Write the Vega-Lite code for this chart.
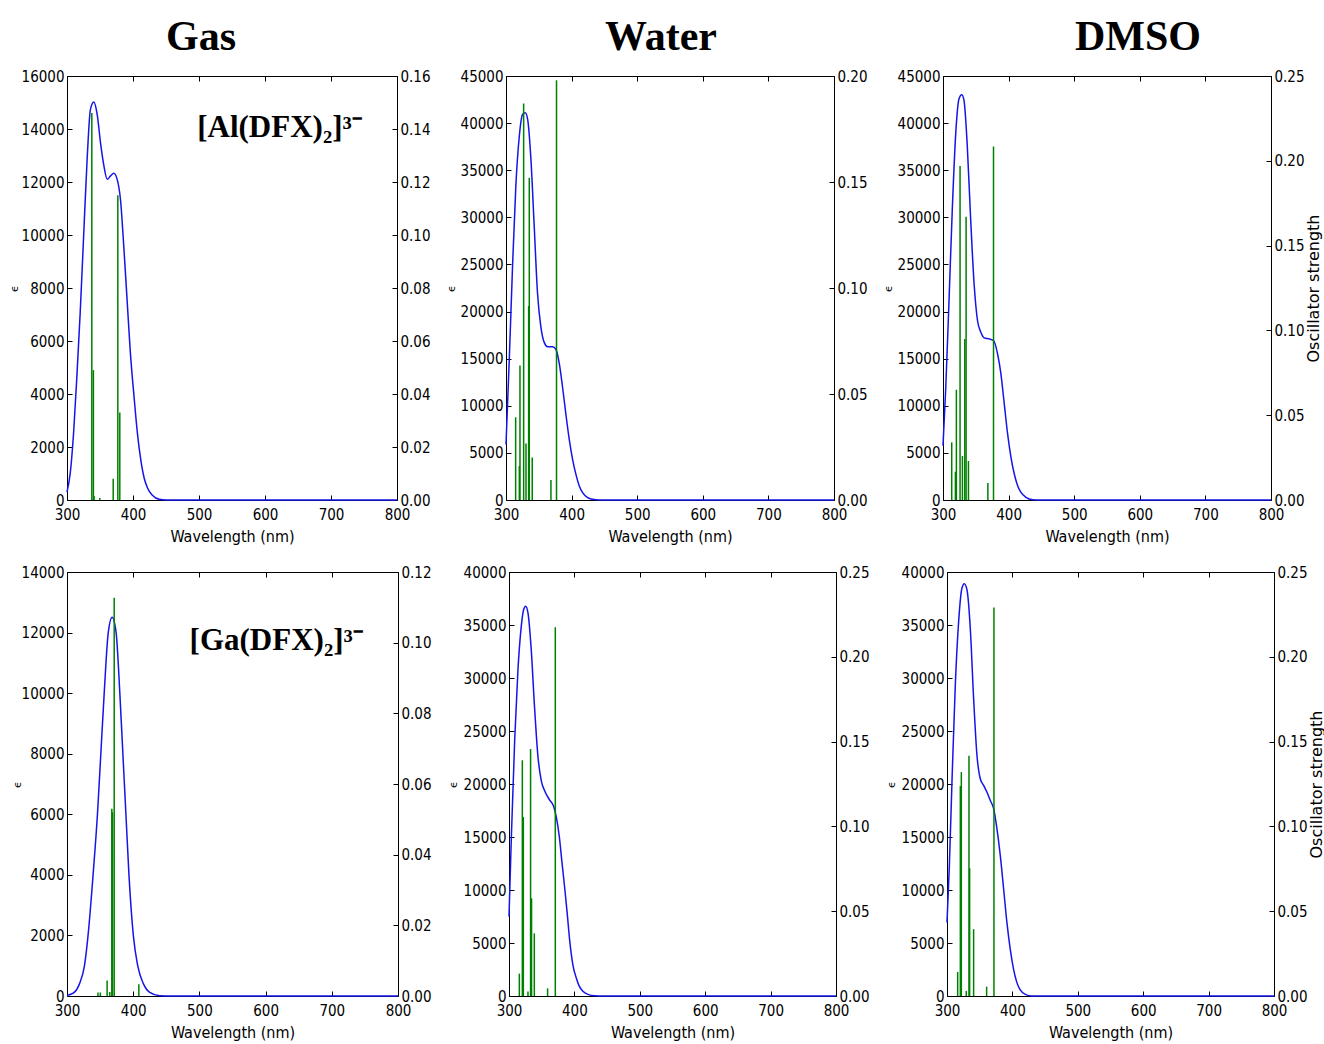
{
  "$schema": "https://vega.github.io/schema/vega-lite/v6.json",
  "background": "white",
  "padding": {"left": 7, "top": 15, "right": 0, "bottom": 0},
  "config": {
    "view": {"stroke": "#000", "strokeWidth": 1},
    "axis": {"grid": false, "domain": false, "ticks": true, "tickColor": "#000", "tickSize": -5, "tickWidth": 1, "labelFont": "Liberation Sans Narrow, DejaVu Sans Condensed, DejaVu Sans", "labelFontSize": 15, "labelColor": "#000", "labelPadding": 8, "titleFont": "Liberation Sans Narrow, DejaVu Sans Condensed, DejaVu Sans", "titleFontSize": 16, "titleFontWeight": "normal", "titleColor": "#000", "labelFlush": false, "labelOverlap": false},
    "axisBottom": {"labelPadding": 12, "minExtent": 22, "maxExtent": 22, "titlePadding": 6},
    "axisLeft": {"minExtent": 45, "maxExtent": 45, "titlePadding": 3, "titleFont": "DejaVu Sans", "titleFontSize": 11},
    "axisRight": {"minExtent": 32, "maxExtent": 32, "titlePadding": 2},
    "title": {"font": "Liberation Serif", "fontSize": 42, "fontWeight": "bold", "color": "#000", "frame": "group", "anchor": "middle", "offset": 10, "baseline": "alphabetic"}
  },
  "datasets": {
    "curve": [
      {"s":"AlGas","wl":300,"eps":300},{"s":"AlGas","wl":305,"eps":1030},{"s":"AlGas","wl":310,"eps":2540},{"s":"AlGas","wl":315,"eps":4680},{"s":"AlGas","wl":320,"eps":7070},{"s":"AlGas","wl":325,"eps":9840},{"s":"AlGas","wl":330.5,"eps":12860},{"s":"AlGas","wl":335.5,"eps":14740},{"s":"AlGas","wl":340.6,"eps":15020},{"s":"AlGas","wl":345.7,"eps":14550},{"s":"AlGas","wl":350.8,"eps":13480},{"s":"AlGas","wl":356,"eps":12600},{"s":"AlGas","wl":361,"eps":12100},{"s":"AlGas","wl":366,"eps":12230},{"s":"AlGas","wl":371,"eps":12330},{"s":"AlGas","wl":376,"eps":12100},{"s":"AlGas","wl":381,"eps":11350},{"s":"AlGas","wl":386,"eps":9580},{"s":"AlGas","wl":391,"eps":7570},{"s":"AlGas","wl":396,"eps":5560},{"s":"AlGas","wl":401.5,"eps":3920},{"s":"AlGas","wl":406.6,"eps":2540},{"s":"AlGas","wl":411.7,"eps":1530},{"s":"AlGas","wl":416.8,"eps":840},{"s":"AlGas","wl":421.8,"eps":465},{"s":"AlGas","wl":429.4,"eps":175},{"s":"AlGas","wl":439.6,"eps":25},{"s":"AlGas","wl":450,"eps":0},{"s":"AlGas","wl":500,"eps":0},{"s":"AlGas","wl":600,"eps":0},{"s":"AlGas","wl":700,"eps":0},{"s":"AlGas","wl":800,"eps":0},
      {"s":"AlWater","wl":300,"eps":5900},{"s":"AlWater","wl":305,"eps":14930},{"s":"AlWater","wl":310,"eps":24830},{"s":"AlWater","wl":315,"eps":33320},{"s":"AlWater","wl":320.3,"eps":38630},{"s":"AlWater","wl":325.4,"eps":40930},{"s":"AlWater","wl":329.4,"eps":41100},{"s":"AlWater","wl":333,"eps":40400},{"s":"AlWater","wl":338,"eps":36150},{"s":"AlWater","wl":343,"eps":29080},{"s":"AlWater","wl":348,"eps":22000},{"s":"AlWater","wl":353,"eps":18460},{"s":"AlWater","wl":358.4,"eps":16700},{"s":"AlWater","wl":363.5,"eps":16270},{"s":"AlWater","wl":371,"eps":16270},{"s":"AlWater","wl":376,"eps":16000},{"s":"AlWater","wl":381,"eps":14570},{"s":"AlWater","wl":386,"eps":12100},{"s":"AlWater","wl":391,"eps":9270},{"s":"AlWater","wl":396.4,"eps":6440},{"s":"AlWater","wl":401.5,"eps":4320},{"s":"AlWater","wl":406.6,"eps":2720},{"s":"AlWater","wl":411.7,"eps":1490},{"s":"AlWater","wl":416.8,"eps":780},{"s":"AlWater","wl":424.4,"eps":250},{"s":"AlWater","wl":432,"eps":70},{"s":"AlWater","wl":442,"eps":0},{"s":"AlWater","wl":500,"eps":0},{"s":"AlWater","wl":600,"eps":0},{"s":"AlWater","wl":700,"eps":0},{"s":"AlWater","wl":800,"eps":0},
      {"s":"AlDMSO","wl":300,"eps":5770},{"s":"AlDMSO","wl":304,"eps":11600},{"s":"AlDMSO","wl":309,"eps":20820},{"s":"AlDMSO","wl":314.3,"eps":31090},{"s":"AlDMSO","wl":319.4,"eps":38880},{"s":"AlDMSO","wl":324.5,"eps":42600},{"s":"AlDMSO","wl":328.6,"eps":43020},{"s":"AlDMSO","wl":332,"eps":42420},{"s":"AlDMSO","wl":337,"eps":37600},{"s":"AlDMSO","wl":342,"eps":30030},{"s":"AlDMSO","wl":347.4,"eps":22950},{"s":"AlDMSO","wl":352.6,"eps":19050},{"s":"AlDMSO","wl":357.7,"eps":17800},{"s":"AlDMSO","wl":362.8,"eps":17210},{"s":"AlDMSO","wl":370.4,"eps":17100},{"s":"AlDMSO","wl":377,"eps":16930},{"s":"AlDMSO","wl":383.2,"eps":15510},{"s":"AlDMSO","wl":388.3,"eps":13390},{"s":"AlDMSO","wl":393.4,"eps":10200},{"s":"AlDMSO","wl":398.5,"eps":7010},{"s":"AlDMSO","wl":403.6,"eps":4530},{"s":"AlDMSO","wl":408.7,"eps":2760},{"s":"AlDMSO","wl":413.8,"eps":1520},{"s":"AlDMSO","wl":418.9,"eps":810},{"s":"AlDMSO","wl":426.5,"eps":280},{"s":"AlDMSO","wl":436.7,"eps":35},{"s":"AlDMSO","wl":447,"eps":0},{"s":"AlDMSO","wl":500,"eps":0},{"s":"AlDMSO","wl":600,"eps":0},{"s":"AlDMSO","wl":700,"eps":0},{"s":"AlDMSO","wl":800,"eps":0},
      {"s":"GaGas","wl":300,"eps":20},{"s":"GaGas","wl":310,"eps":100},{"s":"GaGas","wl":318.8,"eps":400},{"s":"GaGas","wl":326.4,"eps":1000},{"s":"GaGas","wl":331.8,"eps":2000},{"s":"GaGas","wl":339.4,"eps":4000},{"s":"GaGas","wl":346,"eps":6000},{"s":"GaGas","wl":351.1,"eps":8000},{"s":"GaGas","wl":356.2,"eps":10000},{"s":"GaGas","wl":362.3,"eps":12000},{"s":"GaGas","wl":368.2,"eps":12510},{"s":"GaGas","wl":374.2,"eps":12000},{"s":"GaGas","wl":379.8,"eps":10000},{"s":"GaGas","wl":384.4,"eps":8000},{"s":"GaGas","wl":389,"eps":6000},{"s":"GaGas","wl":393.6,"eps":4000},{"s":"GaGas","wl":400.2,"eps":2000},{"s":"GaGas","wl":406.8,"eps":1000},{"s":"GaGas","wl":415.5,"eps":400},{"s":"GaGas","wl":425,"eps":120},{"s":"GaGas","wl":440,"eps":10},{"s":"GaGas","wl":460,"eps":0},{"s":"GaGas","wl":500,"eps":0},{"s":"GaGas","wl":600,"eps":0},{"s":"GaGas","wl":700,"eps":0},{"s":"GaGas","wl":800,"eps":0},
      {"s":"GaWater","wl":300,"eps":7500},{"s":"GaWater","wl":303.6,"eps":15000},{"s":"GaWater","wl":308.7,"eps":24150},{"s":"GaWater","wl":313.7,"eps":30780},{"s":"GaWater","wl":318.8,"eps":34890},{"s":"GaWater","wl":322.4,"eps":36460},{"s":"GaWater","wl":325.5,"eps":36780},{"s":"GaWater","wl":329,"eps":36150},{"s":"GaWater","wl":334,"eps":32680},{"s":"GaWater","wl":339,"eps":27310},{"s":"GaWater","wl":344.3,"eps":22570},{"s":"GaWater","wl":349.4,"eps":20300},{"s":"GaWater","wl":355,"eps":19300},{"s":"GaWater","wl":362,"eps":18500},{"s":"GaWater","wl":368.2,"eps":17900},{"s":"GaWater","wl":372.3,"eps":16900},{"s":"GaWater","wl":377,"eps":15000},{"s":"GaWater","wl":381,"eps":12600},{"s":"GaWater","wl":385.5,"eps":10000},{"s":"GaWater","wl":389,"eps":7800},{"s":"GaWater","wl":392.7,"eps":5300},{"s":"GaWater","wl":397.8,"eps":2900},{"s":"GaWater","wl":402.9,"eps":1700},{"s":"GaWater","wl":406.9,"eps":1000},{"s":"GaWater","wl":413,"eps":450},{"s":"GaWater","wl":420.7,"eps":150},{"s":"GaWater","wl":431,"eps":20},{"s":"GaWater","wl":445,"eps":0},{"s":"GaWater","wl":500,"eps":0},{"s":"GaWater","wl":600,"eps":0},{"s":"GaWater","wl":700,"eps":0},{"s":"GaWater","wl":800,"eps":0},
      {"s":"GaDMSO","wl":300,"eps":6940},{"s":"GaDMSO","wl":303.6,"eps":12300},{"s":"GaDMSO","wl":307.6,"eps":20190},{"s":"GaDMSO","wl":312.7,"eps":29340},{"s":"GaDMSO","wl":317.8,"eps":35330},{"s":"GaDMSO","wl":322.9,"eps":38490},{"s":"GaDMSO","wl":326.5,"eps":38900},{"s":"GaDMSO","wl":330.5,"eps":38330},{"s":"GaDMSO","wl":335.6,"eps":34700},{"s":"GaDMSO","wl":340.7,"eps":28080},{"s":"GaDMSO","wl":345.8,"eps":22710},{"s":"GaDMSO","wl":350.9,"eps":20500},{"s":"GaDMSO","wl":356,"eps":19870},{"s":"GaDMSO","wl":361,"eps":19240},{"s":"GaDMSO","wl":366.2,"eps":18450},{"s":"GaDMSO","wl":371.3,"eps":17670},{"s":"GaDMSO","wl":376.4,"eps":15770},{"s":"GaDMSO","wl":381.5,"eps":13250},{"s":"GaDMSO","wl":386.6,"eps":10090},{"s":"GaDMSO","wl":391.6,"eps":6940},{"s":"GaDMSO","wl":396.7,"eps":4420},{"s":"GaDMSO","wl":401.8,"eps":2520},{"s":"GaDMSO","wl":406.9,"eps":1260},{"s":"GaDMSO","wl":412,"eps":570},{"s":"GaDMSO","wl":419.7,"eps":160},{"s":"GaDMSO","wl":429.8,"eps":0},{"s":"GaDMSO","wl":500,"eps":0},{"s":"GaDMSO","wl":600,"eps":0},{"s":"GaDMSO","wl":700,"eps":0},{"s":"GaDMSO","wl":800,"eps":0}
    ],
    "sticks": [
      {"s":"AlGas","wl":337.6,"f":0.146},{"s":"AlGas","wl":340,"f":0.049},{"s":"AlGas","wl":341,"f":0.0015},{"s":"AlGas","wl":349.7,"f":0.0008},{"s":"AlGas","wl":370,"f":0.008},{"s":"AlGas","wl":377,"f":0.115},{"s":"AlGas","wl":380,"f":0.033},
      {"s":"AlWater","wl":314.7,"f":0.039},{"s":"AlWater","wl":320.3,"f":0.016},{"s":"AlWater","wl":321.3,"f":0.0635},{"s":"AlWater","wl":326.9,"f":0.187},{"s":"AlWater","wl":330.5,"f":0.0266},{"s":"AlWater","wl":334.5,"f":0.0915},{"s":"AlWater","wl":335.5,"f":0.152},{"s":"AlWater","wl":340,"f":0.02},{"s":"AlWater","wl":368.5,"f":0.0094},{"s":"AlWater","wl":377,"f":0.198},
      {"s":"AlDMSO","wl":313.3,"f":0.034},{"s":"AlDMSO","wl":318.9,"f":0.0167},{"s":"AlDMSO","wl":320.4,"f":0.065},{"s":"AlDMSO","wl":326,"f":0.197},{"s":"AlDMSO","wl":329.6,"f":0.026},{"s":"AlDMSO","wl":333.2,"f":0.095},{"s":"AlDMSO","wl":335.2,"f":0.167},{"s":"AlDMSO","wl":338.8,"f":0.023},{"s":"AlDMSO","wl":368.4,"f":0.01},{"s":"AlDMSO","wl":377,"f":0.2085},
      {"s":"GaGas","wl":346.8,"f":0.001},{"s":"GaGas","wl":350.4,"f":0.001},{"s":"GaGas","wl":360.6,"f":0.0044},{"s":"GaGas","wl":364.7,"f":0.0011},{"s":"GaGas","wl":367.7,"f":0.053},{"s":"GaGas","wl":368.7,"f":0.052},{"s":"GaGas","wl":371.3,"f":0.1127},{"s":"GaGas","wl":408.5,"f":0.0033},
      {"s":"GaWater","wl":315.8,"f":0.0132},{"s":"GaWater","wl":320.4,"f":0.139},{"s":"GaWater","wl":321.9,"f":0.1055},{"s":"GaWater","wl":329,"f":0.0026},{"s":"GaWater","wl":333,"f":0.1456},{"s":"GaWater","wl":334.5,"f":0.0576},{"s":"GaWater","wl":338.7,"f":0.0369},{"s":"GaWater","wl":359,"f":0.0045},{"s":"GaWater","wl":370.8,"f":0.2174},
      {"s":"GaDMSO","wl":316.3,"f":0.0142},{"s":"GaDMSO","wl":320.4,"f":0.1238},{"s":"GaDMSO","wl":321.9,"f":0.132},{"s":"GaDMSO","wl":329.5,"f":0.003},{"s":"GaDMSO","wl":333.6,"f":0.1416},{"s":"GaDMSO","wl":334.6,"f":0.0753},{"s":"GaDMSO","wl":340.7,"f":0.0394},{"s":"GaDMSO","wl":360.6,"f":0.0055},{"s":"GaDMSO","wl":371.8,"f":0.229}
    ]
  },
  "spacing": 19,
  "vconcat": [
    {
      "bounds": "flush",
      "spacing": 109,
      "hconcat": [
        {
          "width": 330, "height": 424,
          "title": {"text": "Gas", "dx": -31},
          "resolve": {"scale": {"y": "independent"}, "axis": {"x": "independent"}},
          "layer": [
            {"layer": [
              {"data": {"name": "curve"}, "transform": [{"filter": "datum.s === 'AlGas'"}],
               "mark": {"type": "line", "color": "#1515e8", "strokeWidth": 1.5, "interpolate": "monotone"},
               "encoding": {
                 "x": {"field": "wl", "type": "quantitative", "scale": {"domain": [300, 800], "nice": false}, "axis": {"values": [300,400,500,600,700,800], "format": "d", "title": "Wavelength (nm)"}},
                 "y": {"field": "eps", "type": "quantitative", "scale": {"domain": [0, 16000], "nice": false}, "axis": {"values": [0,2000,4000,6000,8000,10000,12000,14000,16000], "format": "d", "title": "ϵ"}}
               }},
              {"data": {"values": [{}]},
               "mark": {"type": "text", "font": "Liberation Serif", "fontWeight": "bold", "fontSize": 31, "align": "center", "baseline": "middle", "color": "#000"},
               "encoding": {
                 "x": {"datum": 622, "type": "quantitative", "scale": {"domain": [300, 800], "nice": false}},
                 "y": {"datum": 14038, "type": "quantitative", "scale": {"domain": [0, 16000], "nice": false}},
                 "text": {"value": "[Al(DFX)₂]³⁻"}
               }}
            ]},
            {"data": {"name": "sticks"}, "transform": [{"filter": "datum.s === 'AlGas'"}],
             "mark": {"type": "rule", "color": "#008000", "strokeWidth": 1.5},
             "encoding": {
               "x": {"field": "wl", "type": "quantitative", "scale": {"domain": [300, 800], "nice": false}, "axis": {"orient": "top", "values": [300,400,500,600,700,800], "labels": false, "title": null}},
               "y": {"field": "f", "type": "quantitative", "scale": {"domain": [0, 0.16], "nice": false}, "axis": {"orient": "right", "values": [0,0.02,0.04,0.06,0.08,0.1,0.12,0.14,0.16], "format": ".2f", "title": null}},
               "y2": {"datum": 0}
             }}
          ]
        },
        {
          "width": 328, "height": 424,
          "title": {"text": "Water", "dx": -9},
          "resolve": {"scale": {"y": "independent"}, "axis": {"x": "independent"}},
          "layer": [
            {"data": {"name": "curve"}, "transform": [{"filter": "datum.s === 'AlWater'"}],
             "mark": {"type": "line", "color": "#1515e8", "strokeWidth": 1.5, "interpolate": "monotone"},
             "encoding": {
               "x": {"field": "wl", "type": "quantitative", "scale": {"domain": [300, 800], "nice": false}, "axis": {"values": [300,400,500,600,700,800], "format": "d", "title": "Wavelength (nm)"}},
               "y": {"field": "eps", "type": "quantitative", "scale": {"domain": [0, 45000], "nice": false}, "axis": {"values": [0,5000,10000,15000,20000,25000,30000,35000,40000,45000], "format": "d", "title": "ϵ", "minExtent": 47, "maxExtent": 47}}
             }},
            {"data": {"name": "sticks"}, "transform": [{"filter": "datum.s === 'AlWater'"}],
             "mark": {"type": "rule", "color": "#008000", "strokeWidth": 1.5},
             "encoding": {
               "x": {"field": "wl", "type": "quantitative", "scale": {"domain": [300, 800], "nice": false}, "axis": {"orient": "top", "values": [300,400,500,600,700,800], "labels": false, "title": null}},
               "y": {"field": "f", "type": "quantitative", "scale": {"domain": [0, 0.2], "nice": false}, "axis": {"orient": "right", "values": [0,0.05,0.1,0.15,0.2], "format": ".2f", "title": null}},
               "y2": {"datum": 0}
             }}
          ]
        },
        {
          "width": 328, "height": 424,
          "title": {"text": "DMSO", "dx": 31},
          "resolve": {"scale": {"y": "independent"}, "axis": {"x": "independent"}},
          "layer": [
            {"data": {"name": "curve"}, "transform": [{"filter": "datum.s === 'AlDMSO'"}],
             "mark": {"type": "line", "color": "#1515e8", "strokeWidth": 1.5, "interpolate": "monotone"},
             "encoding": {
               "x": {"field": "wl", "type": "quantitative", "scale": {"domain": [300, 800], "nice": false}, "axis": {"values": [300,400,500,600,700,800], "format": "d", "title": "Wavelength (nm)"}},
               "y": {"field": "eps", "type": "quantitative", "scale": {"domain": [0, 45000], "nice": false}, "axis": {"values": [0,5000,10000,15000,20000,25000,30000,35000,40000,45000], "format": "d", "title": "ϵ", "minExtent": 47, "maxExtent": 47}}
             }},
            {"data": {"name": "sticks"}, "transform": [{"filter": "datum.s === 'AlDMSO'"}],
             "mark": {"type": "rule", "color": "#008000", "strokeWidth": 1.5},
             "encoding": {
               "x": {"field": "wl", "type": "quantitative", "scale": {"domain": [300, 800], "nice": false}, "axis": {"orient": "top", "values": [300,400,500,600,700,800], "labels": false, "title": null}},
               "y": {"field": "f", "type": "quantitative", "scale": {"domain": [0, 0.25], "nice": false}, "axis": {"orient": "right", "values": [0,0.05,0.1,0.15,0.2,0.25], "format": ".2f", "title": "Oscillator strength", "titleFont": "DejaVu Sans", "titleFontSize": 16, "titleAngle": 270, "titleBaseline": "top"}},
               "y2": {"datum": 0}
             }}
          ]
        }
      ]
    },
    {
      "bounds": "flush",
      "spacing": 111,
      "hconcat": [
        {
          "width": 331, "height": 424,
          "resolve": {"scale": {"y": "independent"}, "axis": {"x": "independent"}},
          "layer": [
            {"layer": [
              {"data": {"name": "curve"}, "transform": [{"filter": "datum.s === 'GaGas'"}],
               "mark": {"type": "line", "color": "#1515e8", "strokeWidth": 1.5, "interpolate": "monotone"},
               "encoding": {
                 "x": {"field": "wl", "type": "quantitative", "scale": {"domain": [300, 800], "nice": false}, "axis": {"values": [300,400,500,600,700,800], "format": "d", "title": "Wavelength (nm)"}},
                 "y": {"field": "eps", "type": "quantitative", "scale": {"domain": [0, 14000], "nice": false}, "axis": {"values": [0,2000,4000,6000,8000,10000,12000,14000], "format": "d", "title": "ϵ", "minExtent": 42, "maxExtent": 42}}
               }},
              {"data": {"values": [{}]},
               "mark": {"type": "text", "font": "Liberation Serif", "fontWeight": "bold", "fontSize": 31, "align": "center", "baseline": "middle", "color": "#000"},
               "encoding": {
                 "x": {"datum": 616, "type": "quantitative", "scale": {"domain": [300, 800], "nice": false}},
                 "y": {"datum": 11707, "type": "quantitative", "scale": {"domain": [0, 14000], "nice": false}},
                 "text": {"value": "[Ga(DFX)₂]³⁻"}
               }}
            ]},
            {"data": {"name": "sticks"}, "transform": [{"filter": "datum.s === 'GaGas'"}],
             "mark": {"type": "rule", "color": "#008000", "strokeWidth": 1.5},
             "encoding": {
               "x": {"field": "wl", "type": "quantitative", "scale": {"domain": [300, 800], "nice": false}, "axis": {"orient": "top", "values": [300,400,500,600,700,800], "labels": false, "title": null}},
               "y": {"field": "f", "type": "quantitative", "scale": {"domain": [0, 0.12], "nice": false}, "axis": {"orient": "right", "values": [0,0.02,0.04,0.06,0.08,0.1,0.12], "format": ".2f", "title": null}},
               "y2": {"datum": 0}
             }}
          ]
        },
        {
          "width": 327, "height": 424,
          "resolve": {"scale": {"y": "independent"}, "axis": {"x": "independent"}},
          "layer": [
            {"data": {"name": "curve"}, "transform": [{"filter": "datum.s === 'GaWater'"}],
             "mark": {"type": "line", "color": "#1515e8", "strokeWidth": 1.5, "interpolate": "monotone"},
             "encoding": {
               "x": {"field": "wl", "type": "quantitative", "scale": {"domain": [300, 800], "nice": false}, "axis": {"values": [300,400,500,600,700,800], "format": "d", "title": "Wavelength (nm)"}},
               "y": {"field": "eps", "type": "quantitative", "scale": {"domain": [0, 40000], "nice": false}, "axis": {"values": [0,5000,10000,15000,20000,25000,30000,35000,40000], "format": "d", "title": "ϵ", "minExtent": 48, "maxExtent": 48}}
             }},
            {"data": {"name": "sticks"}, "transform": [{"filter": "datum.s === 'GaWater'"}],
             "mark": {"type": "rule", "color": "#008000", "strokeWidth": 1.5},
             "encoding": {
               "x": {"field": "wl", "type": "quantitative", "scale": {"domain": [300, 800], "nice": false}, "axis": {"orient": "top", "values": [300,400,500,600,700,800], "labels": false, "title": null}},
               "y": {"field": "f", "type": "quantitative", "scale": {"domain": [0, 0.25], "nice": false}, "axis": {"orient": "right", "values": [0,0.05,0.1,0.15,0.2,0.25], "format": ".2f", "title": null}},
               "y2": {"datum": 0}
             }}
          ]
        },
        {
          "width": 327, "height": 424,
          "resolve": {"scale": {"y": "independent"}, "axis": {"x": "independent"}},
          "layer": [
            {"data": {"name": "curve"}, "transform": [{"filter": "datum.s === 'GaDMSO'"}],
             "mark": {"type": "line", "color": "#1515e8", "strokeWidth": 1.5, "interpolate": "monotone"},
             "encoding": {
               "x": {"field": "wl", "type": "quantitative", "scale": {"domain": [300, 800], "nice": false}, "axis": {"values": [300,400,500,600,700,800], "format": "d", "title": "Wavelength (nm)"}},
               "y": {"field": "eps", "type": "quantitative", "scale": {"domain": [0, 40000], "nice": false}, "axis": {"values": [0,5000,10000,15000,20000,25000,30000,35000,40000], "format": "d", "title": "ϵ", "minExtent": 48, "maxExtent": 48}}
             }},
            {"data": {"name": "sticks"}, "transform": [{"filter": "datum.s === 'GaDMSO'"}],
             "mark": {"type": "rule", "color": "#008000", "strokeWidth": 1.5},
             "encoding": {
               "x": {"field": "wl", "type": "quantitative", "scale": {"domain": [300, 800], "nice": false}, "axis": {"orient": "top", "values": [300,400,500,600,700,800], "labels": false, "title": null}},
               "y": {"field": "f", "type": "quantitative", "scale": {"domain": [0, 0.25], "nice": false}, "axis": {"orient": "right", "values": [0,0.05,0.1,0.15,0.2,0.25], "format": ".2f", "title": "Oscillator strength", "titleFont": "DejaVu Sans", "titleFontSize": 16, "titleAngle": 270, "titleBaseline": "top"}},
               "y2": {"datum": 0}
             }}
          ]
        }
      ]
    }
  ]
}
